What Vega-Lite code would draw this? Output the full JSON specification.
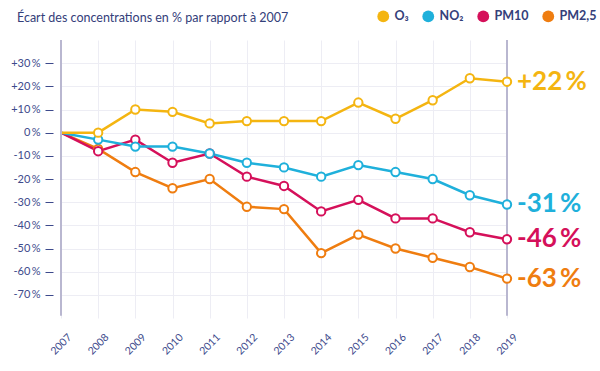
{
  "$schema": "https://vega.github.io/schema/vega-lite/v6.json",
  "width": 446,
  "height": 278,
  "autosize": {"type": "none"},
  "padding": {"left": 61, "top": 40, "right": 93, "bottom": 53},
  "background": "white",
  "config": {
    "view": {"stroke": null},
    "font": "Lato",
    "axis": {"labelOverlap": false, "labelFlush": false, "labelBound": false},
    "axisX": {"labelAngle": -45, "labelAlign": "center", "labelBaseline": "middle", "labelPadding": 26}
  },
  "title": {
    "text": "Écart des concentrations en % par rapport à 2007",
    "anchor": "start",
    "frame": "group",
    "dx": -44,
    "offset": -14,
    "fontSize": 12.5,
    "fontWeight": "normal",
    "font": "Lato",
    "color": "#34407a"
  },
  "datasets": {
    "series": [
      {"year": 2007, "polluant": "PM2,5", "value": 0},
      {"year": 2008, "polluant": "PM2,5", "value": -7},
      {"year": 2009, "polluant": "PM2,5", "value": -17},
      {"year": 2010, "polluant": "PM2,5", "value": -24},
      {"year": 2011, "polluant": "PM2,5", "value": -20},
      {"year": 2012, "polluant": "PM2,5", "value": -32},
      {"year": 2013, "polluant": "PM2,5", "value": -33},
      {"year": 2014, "polluant": "PM2,5", "value": -52},
      {"year": 2015, "polluant": "PM2,5", "value": -44},
      {"year": 2016, "polluant": "PM2,5", "value": -50},
      {"year": 2017, "polluant": "PM2,5", "value": -54},
      {"year": 2018, "polluant": "PM2,5", "value": -58},
      {"year": 2019, "polluant": "PM2,5", "value": -63},
      {"year": 2007, "polluant": "PM10", "value": 0},
      {"year": 2008, "polluant": "PM10", "value": -8},
      {"year": 2009, "polluant": "PM10", "value": -3},
      {"year": 2010, "polluant": "PM10", "value": -13},
      {"year": 2011, "polluant": "PM10", "value": -9},
      {"year": 2012, "polluant": "PM10", "value": -19},
      {"year": 2013, "polluant": "PM10", "value": -23},
      {"year": 2014, "polluant": "PM10", "value": -34},
      {"year": 2015, "polluant": "PM10", "value": -29},
      {"year": 2016, "polluant": "PM10", "value": -37},
      {"year": 2017, "polluant": "PM10", "value": -37},
      {"year": 2018, "polluant": "PM10", "value": -43},
      {"year": 2019, "polluant": "PM10", "value": -46},
      {"year": 2007, "polluant": "NO₂", "value": 0},
      {"year": 2008, "polluant": "NO₂", "value": -3},
      {"year": 2009, "polluant": "NO₂", "value": -6},
      {"year": 2010, "polluant": "NO₂", "value": -6},
      {"year": 2011, "polluant": "NO₂", "value": -9},
      {"year": 2012, "polluant": "NO₂", "value": -13},
      {"year": 2013, "polluant": "NO₂", "value": -15},
      {"year": 2014, "polluant": "NO₂", "value": -19},
      {"year": 2015, "polluant": "NO₂", "value": -14},
      {"year": 2016, "polluant": "NO₂", "value": -17},
      {"year": 2017, "polluant": "NO₂", "value": -20},
      {"year": 2018, "polluant": "NO₂", "value": -27},
      {"year": 2019, "polluant": "NO₂", "value": -31},
      {"year": 2007, "polluant": "O₃", "value": 0},
      {"year": 2008, "polluant": "O₃", "value": 0},
      {"year": 2009, "polluant": "O₃", "value": 10},
      {"year": 2010, "polluant": "O₃", "value": 9},
      {"year": 2011, "polluant": "O₃", "value": 4},
      {"year": 2012, "polluant": "O₃", "value": 5},
      {"year": 2013, "polluant": "O₃", "value": 5},
      {"year": 2014, "polluant": "O₃", "value": 5},
      {"year": 2015, "polluant": "O₃", "value": 13},
      {"year": 2016, "polluant": "O₃", "value": 6},
      {"year": 2017, "polluant": "O₃", "value": 14},
      {"year": 2018, "polluant": "O₃", "value": 23.5},
      {"year": 2019, "polluant": "O₃", "value": 22}
    ],
    "labels": [
      {"year": 2019, "polluant": "O₃", "value": 22, "label": "+22\u2009%"},
      {"year": 2019, "polluant": "NO₂", "value": -31, "label": "-31\u2009%"},
      {"year": 2019, "polluant": "PM10", "value": -46, "label": "-46\u2009%"},
      {"year": 2019, "polluant": "PM2,5", "value": -63, "label": "-63\u2009%"}
    ],
    "frame": [
      {"year": 2007},
      {"year": 2019}
    ]
  },
  "layer": [
    {
      "data": {"name": "series"},
      "mark": {"type": "line", "strokeWidth": 2.5},
      "encoding": {
        "x": {
          "field": "year",
          "type": "quantitative",
          "scale": {"domain": [2007, 2019], "nice": false, "zero": false},
          "axis": {
            "values": [2007, 2008, 2009, 2010, 2011, 2012, 2013, 2014, 2015, 2016, 2017, 2018, 2019],
            "tickCount": 40,
            "format": "d",
            "labelAngle": -45,
            "labelAlign": "center",
            "labelBaseline": "middle",
            "labelPadding": 26,
            "labelFlush": false,
            "labelOverlap": false,
            "domain": false,
            "ticks": false,
            "grid": true,
            "gridColor": "#ededf4",
            "gridWidth": 1,
            "labelColor": "#3d4a8c",
            "labelFontSize": 10.5,
            "title": null
          }
        },
        "y": {
          "field": "value",
          "type": "quantitative",
          "scale": {"domain": [-80, 40], "nice": false, "zero": false},
          "axis": {
            "values": [-70, -60, -50, -40, -30, -20, -10, 0, 10, 20, 30],
            "tickCount": 40,
            "labelExpr": "(datum.value > 0 ? '+' : '') + datum.value + '\u2009%'",
            "offset": 8,
            "tickSize": 8,
            "tickColor": "#3d4a8c",
            "tickWidth": 1,
            "domain": false,
            "grid": true,
            "gridColor": "#ededf4",
            "labelPadding": 5,
            "labelOverlap": false,
            "labelFontSize": 11,
            "labelColor": "#3d4a8c",
            "title": null
          }
        },
        "color": {
          "field": "polluant",
          "type": "nominal",
          "scale": {
            "domain": ["O₃", "NO₂", "PM10", "PM2,5"],
            "range": ["#f4b511", "#1fb0db", "#d5105a", "#ef7d10"]
          },
          "legend": {
            "orient": "none",
            "legendX": 316,
            "legendY": -30,
            "direction": "horizontal",
            "title": null,
            "symbolType": "circle",
            "symbolSize": 140,
            "symbolStrokeWidth": 0,
            "columnPadding": 13,
            "labelOffset": 5,
            "labelFontSize": 12.5,
            "labelFontWeight": "bold",
            "labelColor": "#34407a",
            "labelFont": "Lato",
            "encode": {
              "symbols": {"update": {"fill": {"scale": "color", "field": "value"}, "opacity": {"value": 1}}}
            }
          }
        }
      }
    },
    {
      "data": {"name": "frame"},
      "mark": {"type": "rule", "color": "#b9b7d0", "strokeWidth": 2},
      "encoding": {
        "x": {"field": "year", "type": "quantitative"},
        "y": {"datum": 40, "type": "quantitative"},
        "y2": {"datum": -79}
      }
    },
    {
      "mark": {"type": "rule", "color": "#d5105a", "strokeWidth": 1.5},
      "encoding": {
        "x": {"datum": 2007, "type": "quantitative"},
        "x2": {"datum": 2021.25},
        "y": {"datum": 0, "type": "quantitative"}
      }
    },
    {
      "mark": {"type": "rule", "color": "#cbcadc", "strokeWidth": 1},
      "encoding": {
        "x": {"datum": 2005.76, "type": "quantitative"},
        "x2": {"datum": 2021.37},
        "y": {"datum": 41.7, "type": "quantitative"}
      }
    },
    {
      "data": {"name": "series"},
      "transform": [{"filter": "datum.year > 2007"}],
      "mark": {"type": "point", "shape": "circle", "filled": false, "fill": "white", "size": 70, "strokeWidth": 2, "opacity": 1},
      "encoding": {
        "x": {"field": "year", "type": "quantitative"},
        "y": {"field": "value", "type": "quantitative"},
        "color": {"field": "polluant", "type": "nominal", "legend": null}
      }
    },
    {
      "data": {"name": "labels"},
      "mark": {"type": "text", "align": "left", "baseline": "middle", "dx": 10, "fontSize": 26, "fontWeight": "bold", "font": "Lato"},
      "encoding": {
        "x": {"field": "year", "type": "quantitative"},
        "y": {"field": "value", "type": "quantitative"},
        "text": {"field": "label"},
        "color": {"field": "polluant", "type": "nominal", "legend": null}
      }
    }
  ]
}
